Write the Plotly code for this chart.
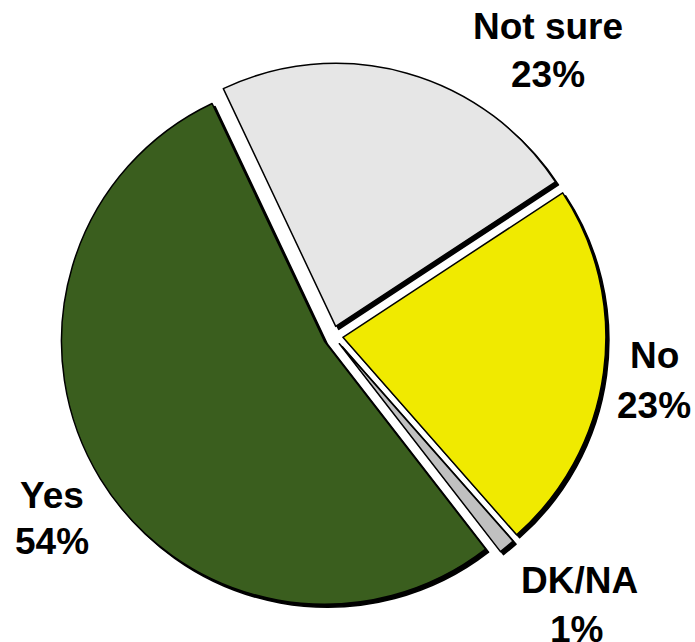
import plotly.graph_objects as go

# Survey answers, in clockwise order from the top
labels = ["Not sure", "No", "DK/NA", "Yes"]
values = [23, 23, 1, 54]
colors = ["#e6e6e6", "#f0ea00", "#c0c0c0", "#3a5e1e"]

W, H = 695, 642
R = 263          # pie radius in px
PULL_PX = 10     # explode distance in px
CX, CY = 333, 336  # pie centre in px (from top-left)
SHADOW = (3, 3)  # drop-shadow offset in px

pull = PULL_PX / R
half = R * (1 + pull)


def domain(cx, cy):
    return dict(
        x=[(cx - half) / W, (cx + half) / W],
        y=[1 - (cy + half) / H, 1 - (cy - half) / H],
    )


common = dict(
    labels=labels,
    values=values,
    sort=False,
    direction="clockwise",
    rotation=-25.3,
    pull=[pull] * len(values),
    textinfo="none",
    hoverinfo="label+percent",
    showlegend=False,
)

fig = go.Figure()
# black drop shadow underneath
fig.add_trace(go.Pie(
    **common,
    domain=domain(CX + SHADOW[0], CY + SHADOW[1]),
    marker=dict(colors=["#000000"] * len(values), line=dict(color="#000000", width=1.5)),
))
# coloured slices
fig.add_trace(go.Pie(
    **common,
    domain=domain(CX, CY),
    marker=dict(colors=colors, line=dict(color="#000000", width=1.5)),
))

# label placement (px): name line centre, percent line centre
label_pos = {
    "Not sure": ((548, 27), (548, 75)),
    "No": ((654, 356), (654, 405)),
    "DK/NA": ((579, 580), (576, 629)),
    "Yes": ((52, 495), (52, 541)),
}
font = dict(family="Liberation Sans, Arial, sans-serif", size=37, color="#000000")
for lab, val in zip(labels, values):
    (x1, y1), (x2, y2) = label_pos[lab]
    for text, x, y in ((f"<b>{lab}</b>", x1, y1), (f"<b>{val}%</b>", x2, y2)):
        fig.add_annotation(
            text=text, x=x / W, y=1 - y / H, xref="paper", yref="paper",
            xanchor="center", yanchor="middle", showarrow=False, font=font,
        )

fig.update_layout(
    width=W, height=H,
    margin=dict(l=0, r=0, t=0, b=0),
    paper_bgcolor="#ffffff",
    plot_bgcolor="#ffffff",
)

fig.write_html("out.html")
